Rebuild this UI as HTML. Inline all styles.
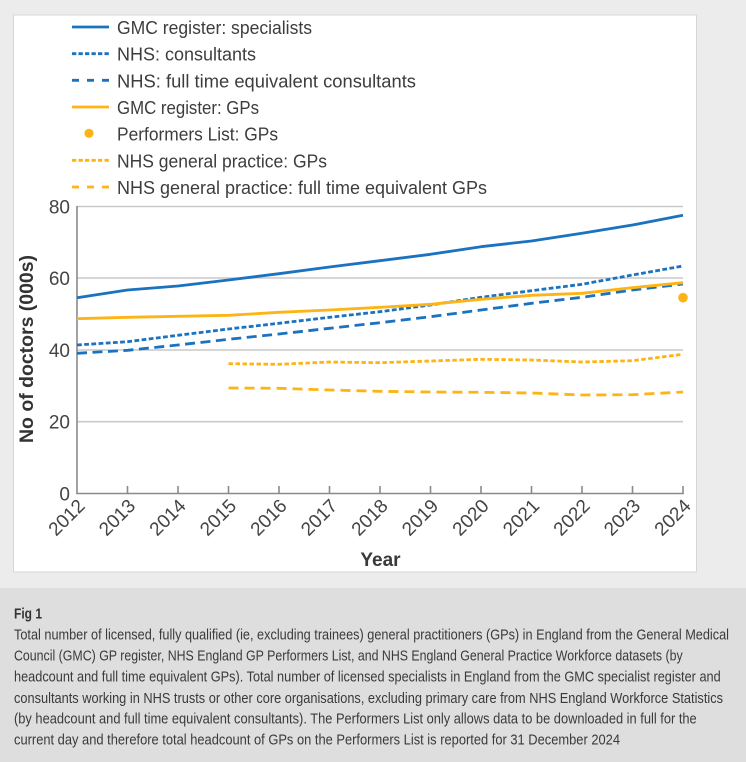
<!DOCTYPE html>
<html><head><meta charset="utf-8"><style>
html,body{margin:0;padding:0;width:746px;height:762px;overflow:hidden;background:#ececec;}
svg{display:block;}
text{font-family:"Liberation Sans",Arial,sans-serif;}
</style></head><body>
<svg width="746" height="762" viewBox="0 0 746 762" xmlns="http://www.w3.org/2000/svg">
<rect x="0" y="0" width="746" height="588" fill="#ececec"/>
<rect x="13.5" y="15" width="683" height="557" fill="#ffffff" stroke="#d6d6d6" stroke-width="1"/>
<rect x="0" y="588" width="746" height="174" fill="#dedede"/>

<!-- legend -->
<g stroke-width="2.8" fill="none">
<line x1="72" y1="27" x2="109" y2="27" stroke="#1b72be"/>
<line x1="72" y1="53.7" x2="109" y2="53.7" stroke="#1b72be" stroke-dasharray="4.3 2.2"/>
<line x1="72" y1="80.3" x2="109" y2="80.3" stroke="#1b72be" stroke-dasharray="7 8"/>
<line x1="72" y1="107" x2="109" y2="107" stroke="#fdb414"/>
<line x1="72" y1="160.3" x2="109" y2="160.3" stroke="#fdb414" stroke-dasharray="4.3 2.2"/>
<line x1="72" y1="187" x2="109" y2="187" stroke="#fdb414" stroke-dasharray="7 8"/>
</g>
<circle cx="89" cy="133.3" r="4.6" fill="#fdb414"/>
<g font-size="18.5" fill="#3d3d3d">
<text x="117" y="34" textLength="195" lengthAdjust="spacingAndGlyphs">GMC register: specialists</text>
<text x="117" y="60.7" textLength="139" lengthAdjust="spacingAndGlyphs">NHS: consultants</text>
<text x="117" y="87.3" textLength="299" lengthAdjust="spacingAndGlyphs">NHS: full time equivalent consultants</text>
<text x="117" y="114" textLength="142" lengthAdjust="spacingAndGlyphs">GMC register: GPs</text>
<text x="117" y="140.7" textLength="161" lengthAdjust="spacingAndGlyphs">Performers List: GPs</text>
<text x="117" y="167.3" textLength="210" lengthAdjust="spacingAndGlyphs">NHS general practice: GPs</text>
<text x="117" y="194" textLength="370" lengthAdjust="spacingAndGlyphs">NHS general practice: full time equivalent GPs</text>
</g>

<!-- gridlines -->
<g stroke="#c9c9c9" stroke-width="1.6">
<line x1="77" y1="206.5" x2="683" y2="206.5"/>
<line x1="77" y1="278" x2="683" y2="278"/>
<line x1="77" y1="350" x2="683" y2="350"/>
<line x1="77" y1="421.7" x2="683" y2="421.7"/>
</g>
<!-- axes -->
<g stroke="#8a8a8a" stroke-width="1.6" fill="none">
<line x1="77" y1="206" x2="77" y2="493.5"/>
<line x1="76.2" y1="493.5" x2="683.8" y2="493.5"/>
<line x1="127.5" y1="486" x2="127.5" y2="493"/>
<line x1="178" y1="486" x2="178" y2="493"/>
<line x1="228.5" y1="486" x2="228.5" y2="493"/>
<line x1="279" y1="486" x2="279" y2="493"/>
<line x1="329.5" y1="486" x2="329.5" y2="493"/>
<line x1="380" y1="486" x2="380" y2="493"/>
<line x1="430.5" y1="486" x2="430.5" y2="493"/>
<line x1="481" y1="486" x2="481" y2="493"/>
<line x1="531.5" y1="486" x2="531.5" y2="493"/>
<line x1="582" y1="486" x2="582" y2="493"/>
<line x1="632.5" y1="486" x2="632.5" y2="493"/>
<line x1="683" y1="486" x2="683" y2="493"/>
</g>

<!-- y tick labels -->
<g font-size="19" fill="#444" text-anchor="end">
<text x="70" y="213.5">80</text>
<text x="70" y="285">60</text>
<text x="70" y="357">40</text>
<text x="70" y="428.7">20</text>
<text x="70" y="500.5">0</text>
</g>
<!-- x tick labels -->
<g font-size="19" fill="#444" text-anchor="end">
<text transform="translate(86,507) rotate(-45)">2012</text>
<text transform="translate(136.5,507) rotate(-45)">2013</text>
<text transform="translate(187,507) rotate(-45)">2014</text>
<text transform="translate(237.5,507) rotate(-45)">2015</text>
<text transform="translate(288,507) rotate(-45)">2016</text>
<text transform="translate(338.5,507) rotate(-45)">2017</text>
<text transform="translate(389,507) rotate(-45)">2018</text>
<text transform="translate(439.5,507) rotate(-45)">2019</text>
<text transform="translate(490,507) rotate(-45)">2020</text>
<text transform="translate(540.5,507) rotate(-45)">2021</text>
<text transform="translate(591,507) rotate(-45)">2022</text>
<text transform="translate(641.5,507) rotate(-45)">2023</text>
<text transform="translate(692,507) rotate(-45)">2024</text>
</g>

<!-- axis titles -->
<text x="380.5" y="566" font-size="19" font-weight="bold" fill="#3a3a3a" text-anchor="middle">Year</text>
<text transform="translate(33,349) rotate(-90)" font-size="19.4" font-weight="bold" fill="#333" text-anchor="middle" textLength="188" lengthAdjust="spacingAndGlyphs">No of doctors (000s)</text>

<!-- series -->
<g fill="none" stroke-width="2.8" stroke-linejoin="round">
<polyline stroke="#fdb414" stroke-dasharray="10 6" points="228.5,388 279,388.3 329.5,390 380,391.3 430.5,392 481,392.3 531.5,393 582,395 632.5,394.7 683,392"/>
<polyline stroke="#fdb414" stroke-dasharray="4.5 2.5" points="228.5,363.7 279,364.3 329.5,362 380,362.7 430.5,361 481,359.3 531.5,360 582,362 632.5,360.7 683,354.3"/>
<polyline stroke="#1b72be" stroke-dasharray="10 5.5" points="77,353.3 127.5,350.3 178,345 228.5,339.3 279,334 329.5,328.3 380,322.7 430.5,316.7 481,310 531.5,303.3 582,297.3 632.5,290 683,284"/>
<polyline stroke="#1b72be" stroke-dasharray="4.8 2.4" points="77,345 127.5,341.7 178,335.3 228.5,329 279,323.3 329.5,317.3 380,311.7 430.5,305 481,297.3 531.5,290.7 582,284.3 632.5,275 683,266"/>
<polyline stroke="#fdb414" points="77,318.7 127.5,317.3 178,316.3 228.5,315.3 279,312.3 329.5,310 380,307.3 430.5,304.3 481,299.3 531.5,295.3 582,293.3 632.5,287.7 683,282.7"/>
<polyline stroke="#1b72be" points="77,297.7 127.5,290 178,286 228.5,280 279,273.7 329.5,267 380,260.7 430.5,254.3 481,246.7 531.5,241 582,233.3 632.5,225 683,215.3"/>
</g>
<circle cx="683" cy="297.7" r="4.8" fill="#fdb414"/>

<!-- caption -->
<text x="14" y="618.3" font-size="14.5" font-weight="bold" fill="#333" textLength="28" lengthAdjust="spacingAndGlyphs">Fig 1</text>
<g font-size="14.5" fill="#3a3a3a">
<text x="14" y="639.3" textLength="715" lengthAdjust="spacingAndGlyphs">Total number of licensed, fully qualified (ie, excluding trainees) general practitioners (GPs) in England from the General Medical</text>
<text x="14" y="660.5" textLength="668.7" lengthAdjust="spacingAndGlyphs">Council (GMC) GP register, NHS England GP Performers List, and NHS England General Practice Workforce datasets (by</text>
<text x="14" y="681.7" textLength="706.7" lengthAdjust="spacingAndGlyphs">headcount and full time equivalent GPs). Total number of licensed specialists in England from the GMC specialist register and</text>
<text x="14" y="702.8" textLength="709" lengthAdjust="spacingAndGlyphs">consultants working in NHS trusts or other core organisations, excluding primary care from NHS England Workforce Statistics</text>
<text x="14" y="723.5" textLength="682.7" lengthAdjust="spacingAndGlyphs">(by headcount and full time equivalent consultants). The Performers List only allows data to be downloaded in full for the</text>
<text x="14" y="744.3" textLength="606" lengthAdjust="spacingAndGlyphs">current day and therefore total headcount of GPs on the Performers List is reported for 31 December 2024</text>
</g>
</svg>
</body></html>
